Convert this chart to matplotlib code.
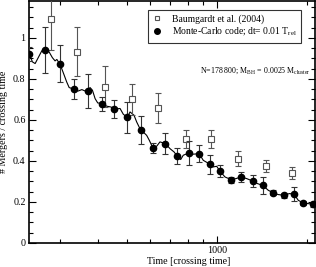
import matplotlib
matplotlib.use("Agg")
import matplotlib.pyplot as plt
from matplotlib.lines import Line2D
from matplotlib.ticker import FixedLocator, FuncFormatter, MultipleLocator, NullFormatter

plt.rcParams["font.family"] = ["Liberation Serif", "DejaVu Serif"]

# Monte-Carlo code, dt = 0.01 T_rel (filled circles)
mc_t = [236, 267, 298, 333, 370, 413, 455, 502, 557, 611, 673, 738, 808,
        873, 950, 1026, 1117, 1206, 1319, 1425, 1547, 1680, 1814, 1949, 2095]
mc_v = [0.920, 0.940, 0.875, 0.750, 0.741, 0.680, 0.653, 0.612, 0.550, 0.465,
        0.485, 0.424, 0.439, 0.436, 0.384, 0.350, 0.309, 0.322, 0.302, 0.281,
        0.244, 0.233, 0.238, 0.195, 0.189]
mc_err = [0.035, 0.113, 0.090, 0.049, 0.082, 0.034, 0.045, 0.077, 0.067, 0.024,
          0.050, 0.037, 0.057, 0.043, 0.046, 0.030, 0.015, 0.025, 0.030, 0.040,
          0.012, 0.012, 0.035, 0.012, 0.012]

# Baumgardt et al. (2004) (open squares)
nb_t = [279, 342, 423, 520, 638, 789, 957, 1181, 1458, 1789]
nb_v = [1.091, 0.932, 0.761, 0.700, 0.656, 0.507, 0.506, 0.412, 0.374, 0.343]
nb_err = [0.148, 0.120, 0.100, 0.075, 0.073, 0.045, 0.045, 0.037, 0.030, 0.030]

# running merger rate of the Monte-Carlo run (thin line)
curve_t = [236, 242, 247, 253, 260, 267, 275, 282, 288, 292, 298, 303, 309, 315,
           321, 333, 344, 354, 363, 370, 377, 384, 392, 400, 413, 429, 443, 456,
           475, 487, 502, 513, 529, 540, 557, 568, 583, 595, 611, 630, 646, 673,
           698, 720, 738, 758, 773, 808, 835, 873, 902, 950, 974, 1000, 1026, 1066,
           1117, 1160, 1206, 1260, 1319, 1367, 1425, 1488, 1547, 1607, 1680, 1750,
           1814, 1875, 1949, 2025, 2095, 2148]
curve_v = [0.920, 0.883, 0.875, 0.904, 0.937, 0.940, 0.932, 0.904, 0.888, 0.895,
           0.875, 0.851, 0.818, 0.785, 0.758, 0.750, 0.741, 0.748, 0.741, 0.741,
           0.758, 0.745, 0.704, 0.683, 0.680, 0.667, 0.663, 0.653, 0.656, 0.628,
           0.612, 0.639, 0.623, 0.590, 0.550, 0.541, 0.525, 0.501, 0.465, 0.472,
           0.493, 0.485, 0.460, 0.444, 0.424, 0.407, 0.428, 0.439, 0.433, 0.436,
           0.403, 0.384, 0.371, 0.374, 0.350, 0.322, 0.309, 0.314, 0.322, 0.314,
           0.302, 0.290, 0.281, 0.257, 0.244, 0.236, 0.233, 0.241, 0.238, 0.208,
           0.195, 0.192, 0.189, 0.188]

y_ticks = [0, 0.2, 0.4, 0.6, 0.8, 1.0]
x_major = [1000]
x_minor = [300, 400, 500, 600, 700, 800, 900, 2000]

fig = plt.figure(figsize=(3.16, 2.67), dpi=100)
ax = fig.add_axes([29 / 316, 24 / 267, 285.5 / 316, 242 / 267])

ax.plot(curve_t, curve_v, color="black", linewidth=0.8, zorder=2)
ax.errorbar(nb_t, nb_v, yerr=nb_err, fmt="s", markersize=3.8, markerfacecolor="white",
            markeredgecolor="#555555", markeredgewidth=0.8, ecolor="#555555",
            elinewidth=0.8, capsize=2.5, capthick=0.8, zorder=3)
ax.errorbar(mc_t, mc_v, yerr=mc_err, fmt="o", markersize=4.5, color="black",
            ecolor="#333333", elinewidth=0.8, capsize=2.5, capthick=0.8, zorder=4)

ax.set_xscale("log")
ax.set_xlim(235.6, 2124)
ax.set_ylim(0, 1.18)
ax.xaxis.set_major_locator(FixedLocator(x_major))
ax.xaxis.set_minor_locator(FixedLocator(x_minor))
ax.xaxis.set_major_formatter(FuncFormatter(lambda v, p: f"{v:g}"))
ax.xaxis.set_minor_formatter(NullFormatter())
ax.yaxis.set_major_locator(FixedLocator(y_ticks))
ax.yaxis.set_minor_locator(MultipleLocator(0.05))
ax.yaxis.set_major_formatter(FuncFormatter(lambda v, p: f"{v:g}"))
ax.tick_params(which="both", direction="in", top=True, right=True, labelsize=7.2, width=0.8)
ax.tick_params(which="major", length=5, pad=2.5)
ax.tick_params(which="minor", length=3)
for s in ax.spines.values():
    s.set_linewidth(1.2)

ax.set_xlabel("Time [crossing time]", fontsize=7.2)
ax.xaxis.set_label_coords(0.56, -0.058)
ax.set_ylabel("# Mergers / crossing time", fontsize=7.2)
ax.yaxis.set_label_coords(-0.072, 0.5)

handles = [
    Line2D([], [], linestyle="none", marker="s", markersize=3.5, markerfacecolor="white",
           markeredgecolor="#555555", markeredgewidth=0.8),
    Line2D([], [], linestyle="none", marker="o", markersize=4, color="black"),
]
labels = ["Baumgardt et al. (2004)", r"Monte-Carlo code; dt= 0.01 T$_\mathregular{rel}$"]
leg = ax.legend(handles, labels, loc="upper right", bbox_to_anchor=(0.953, 0.963),
                borderaxespad=0, fontsize=6.9, frameon=True, fancybox=False,
                handlelength=1.0, handletextpad=1.0, borderpad=0.45, labelspacing=0.2)
leg.get_frame().set_edgecolor("black")
leg.get_frame().set_linewidth(0.8)

ax.text(0.598, 0.711, r"N=178 800; M$_\mathregular{BH}$ = 0.0025 M$_\mathregular{cluster}$",
        transform=ax.transAxes, fontsize=5.7, va="center", ha="left")

fig.savefig("out.png", dpi=100)
